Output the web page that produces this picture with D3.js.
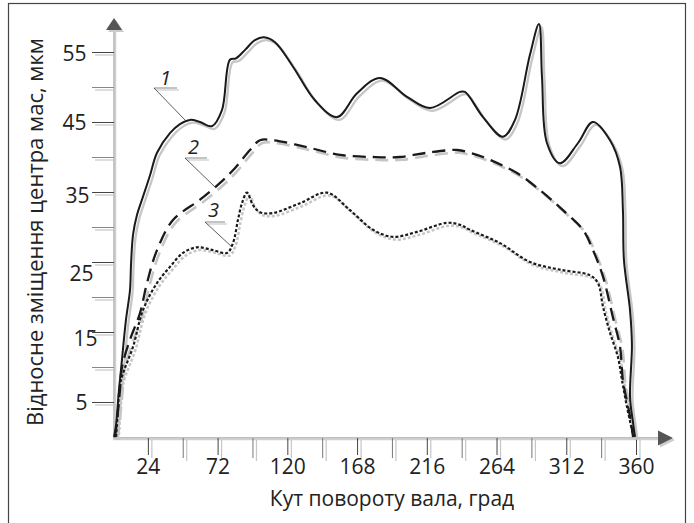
<!DOCTYPE html>
<html><head><meta charset="utf-8">
<script src="https://cdn.jsdelivr.net/npm/d3@7"></script>
<style>
body{margin:0;background:#fff}
svg{display:block}
text{font-family:"Open Sans",sans-serif;fill:#222}
</style>
</head><body>
<svg id="c" width="694" height="523"></svg>
<script>
// ---- data ----
const xMajorTicks = [24, 72, 120, 168, 216, 264, 312, 360];
const xMinorTicks = [48, 96, 144, 192, 240, 288, 336];
const yMajorTicks = [5, 15, 25, 35, 45, 55];
const yMinorTicks = [10, 20, 30, 40, 50];
const curveNames = ["1", "2", "3"];

const curve1Angle = [0.7, 2.1, 4.1, 5.5, 8.9, 11.7, 12.4, 13.8, 16.5, 20.6, 25.5, 30.3, 39.2, 46.1, 53, 59.9, 68.1, 75, 80.5, 84.7, 90.9, 97.7, 103.9, 111.5, 123.9, 139, 154.2, 168, 183.8, 202.4, 218.2, 238.9, 242.3, 254.7, 268.4, 276.7, 287, 293.2, 295.3, 298.7, 307.7, 320.1, 330.4, 342.1, 349, 351, 351.7, 355.9, 357.2, 355.9, 358, 359.3];
const curve1Value = [0, 1.7, 6.7, 9.6, 16.7, 21, 24.6, 28.9, 31.7, 34.3, 37.4, 40.6, 43.4, 44.7, 45.3, 45, 44.4, 46.7, 53.9, 54.1, 55.3, 56.7, 57.1, 56.4, 52.9, 48.1, 45.7, 49.1, 51.3, 48.6, 47, 49.3, 49.3, 45.7, 42.9, 45.3, 54.6, 59, 51.4, 42, 39.1, 42, 45, 42.4, 38.6, 32.4, 25.3, 18.1, 13.1, 5.7, 2, 0];

const curve2Angle = [1.4, 2.8, 4.8, 6.2, 11.7, 18.6, 23.4, 30.3, 41.3, 59.9, 73.7, 82.6, 94.3, 101.2, 110.1, 133.5, 156.3, 179, 197.5, 216.1, 236.8, 245.7, 254.7, 278.1, 296, 309.7, 323.5, 330.4, 337.3, 344.1, 349, 351, 355.9, 358];
const curve2Value = [0, 2.4, 6.7, 10, 13.9, 17.7, 22, 26.7, 31, 33.9, 36.3, 38.1, 41, 42.4, 42.4, 41.4, 40.3, 40, 40, 40.6, 41, 40.6, 40, 37.7, 34.9, 32.4, 29.6, 26.7, 22.9, 17.1, 12.9, 8.1, 2.9, 0];

const curve3Angle = [2.1, 3.4, 4.8, 6.9, 13.8, 20.6, 30.3, 39.2, 48.2, 57.8, 68.8, 78.5, 82.6, 86, 88.8, 92.2, 96.4, 101.2, 110.1, 128.7, 147.3, 163.1, 179, 192.7, 209.3, 229.9, 238.9, 245.7, 266.4, 287, 307.7, 328.3, 333.8, 337.3, 342.1, 347.6, 350.4, 353.8, 358];
const curve3Value = [0, 3.9, 7.4, 9.1, 12.9, 18.1, 22, 24.3, 26.3, 27.1, 26.7, 26.3, 27.7, 31, 33.4, 34.9, 33.1, 32.1, 32, 33.4, 34.9, 32.4, 29.6, 28.6, 29.3, 30.6, 30.3, 29.6, 27.7, 25, 23.9, 23.1, 22, 18.6, 14.9, 11.4, 8.1, 4.3, 0.3];

// ---- layout ----
const svg = d3.select("#c");
const x = d3.scaleLinear().domain([0, 360]).range([113, 636]);
const y = d3.scaleLinear().domain([0, 55]).range([437, 52]);
const shadow = "#c6c6c6";

// frame
svg.append("rect").attr("x", 8.5).attr("y", 3.5).attr("width", 677).attr("height", 530)
  .attr("fill", "none").attr("stroke", "#444").attr("stroke-width", 1.2);

// axes lines
svg.append("line").attr("x1", 115.5).attr("x2", 115.5).attr("y1", 28).attr("y2", 440).attr("stroke", "#d0d0d0").attr("stroke-width", 1.5);
svg.append("line").attr("x1", 114).attr("x2", 114).attr("y1", 28).attr("y2", 438).attr("stroke", "#a8a8a8").attr("stroke-width", 1.3);
svg.append("line").attr("x1", 113).attr("x2", 660).attr("y1", 439.5).attr("y2", 439.5).attr("stroke", "#d0d0d0").attr("stroke-width", 1.5);
svg.append("line").attr("x1", 113).attr("x2", 660).attr("y1", 437.8).attr("y2", 437.8).attr("stroke", "#a8a8a8").attr("stroke-width", 1.3);

// arrows
svg.append("path").attr("d", "M116,20 L124,32 L108,32 Z").attr("fill", "#ccc");
svg.append("path").attr("d", "M114,18 L122,30 L106,30 Z").attr("fill", "#555");
svg.append("path").attr("d", "M675,440 L660,447.5 L660,432.5 Z").attr("fill", "#ccc");
svg.append("path").attr("d", "M673,438 L658,445.5 L658,430.5 Z").attr("fill", "#555");

// y ticks
const yAll = yMajorTicks.map(v => ({v, major: true})).concat(yMinorTicks.map(v => ({v, major: false})));
svg.selectAll(".ytsh").data(yAll).join("line")
  .attr("x1", 95).attr("x2", 114).attr("y1", d => y(d.v) + 3).attr("y2", d => y(d.v) + 3)
  .attr("stroke", shadow).attr("stroke-width", 1.2);
svg.selectAll(".yt").data(yAll).join("line")
  .attr("x1", 92).attr("x2", 114).attr("y1", d => y(d.v) + 0.5).attr("y2", d => y(d.v) + 0.5)
  .attr("stroke", d => d.major ? "#444" : "#888").attr("stroke-width", 1);

// y tick labels (hand-placed look of the original)
const yNudge = {55: [0, 1], 45: [0, 0], 35: [3, 3], 25: [7, 11], 15: [11, 6], 5: [1, 0]};
svg.selectAll(".yl").data(yMajorTicks).join("text")
  .attr("x", d => 86.5 + yNudge[d][0]).attr("y", d => y(d) + 8 + yNudge[d][1])
  .attr("text-anchor", "end").attr("font-size", 21).text(d => d);

// x ticks
svg.selectAll(".xtsh").data(xMajorTicks).join("line")
  .attr("x1", d => x(d) + 4).attr("x2", d => x(d) + 4).attr("y1", 440).attr("y2", 458)
  .attr("stroke", shadow).attr("stroke-width", 1.2);
svg.selectAll(".xtsh2").data(xMinorTicks).join("line")
  .attr("x1", d => x(d) + 4).attr("x2", d => x(d) + 4).attr("y1", 440).attr("y2", 461)
  .attr("stroke", shadow).attr("stroke-width", 1.2);
svg.selectAll(".xt").data(xMajorTicks).join("line")
  .attr("x1", d => x(d) + 0.5).attr("x2", d => x(d) + 0.5).attr("y1", 438).attr("y2", 455)
  .attr("stroke", "#444").attr("stroke-width", 1);
svg.selectAll(".xt2").data(xMinorTicks).join("line")
  .attr("x1", d => x(d) + 0.5).attr("x2", d => x(d) + 0.5).attr("y1", 438).attr("y2", 458)
  .attr("stroke", "#777").attr("stroke-width", 1);
svg.selectAll(".xl").data(xMajorTicks).join("text")
  .attr("x", d => x(d) + 0.5).attr("y", 473.5)
  .attr("text-anchor", "middle").attr("font-size", 21).text(d => d);

// axis titles
svg.append("text").attr("x", 392).attr("y", 506).attr("text-anchor", "middle")
  .attr("font-size", 21).text("Кут повороту вала, град");
svg.append("text").attr("transform", "translate(43,232) rotate(-90)").attr("text-anchor", "middle")
  .attr("font-size", 22).text("Відносне зміщення центра мас, мкм");

// curves
const line = d3.line().x(d => x(d[0])).y(d => y(d[1])).curve(d3.curveCatmullRom.alpha(0.5));
const series = [
  {pts: d3.zip(curve1Angle, curve1Value), dash: null, w: 2},
  {pts: d3.zip(curve2Angle, curve2Value), dash: "13,7", w: 2.3},
  {pts: d3.zip(curve3Angle, curve3Value), dash: "3,2", w: 2.2}
];
const gs = svg.append("g").attr("transform", "translate(2.5,2.8)");
series.forEach(s => {
  gs.append("path").attr("d", line(s.pts)).attr("fill", "none").attr("stroke", shadow)
    .attr("stroke-width", s.w + 0.3).attr("stroke-dasharray", s.dash);
});
series.forEach(s => {
  svg.append("path").attr("d", line(s.pts)).attr("fill", "none").attr("stroke", "#1a1a1a")
    .attr("stroke-width", s.w).attr("stroke-dasharray", s.dash);
});

// curve labels with leaders
const leaders = [
  {t: curveNames[0], tx: 160, ty: 85, ux1: 154, ux2: 177, uy: 88, lx: 185, ly: 120},
  {t: curveNames[1], tx: 188, ty: 154, ux1: 185, ux2: 207, uy: 158, lx: 215, ly: 187},
  {t: curveNames[2], tx: 208, ty: 217, ux1: 205, ux2: 225, uy: 222, lx: 232, ly: 247}
];
leaders.forEach(l => {
  svg.append("line").attr("x1", l.ux1 + 2).attr("x2", l.ux2 + 2).attr("y1", l.uy + 2).attr("y2", l.uy + 2).attr("stroke", "#ccc").attr("stroke-width", 1.2);
  svg.append("line").attr("x1", l.ux1).attr("x2", l.ux2).attr("y1", l.uy).attr("y2", l.uy).attr("stroke", "#888").attr("stroke-width", 1);
  svg.append("line").attr("x1", l.ux1).attr("x2", l.lx).attr("y1", l.uy).attr("y2", l.ly).attr("stroke", "#333").attr("stroke-width", 0.8);
  svg.append("text").attr("x", l.tx).attr("y", l.ty).attr("font-size", 20).attr("font-style", "italic").text(l.t);
});
</script>
</body></html>
